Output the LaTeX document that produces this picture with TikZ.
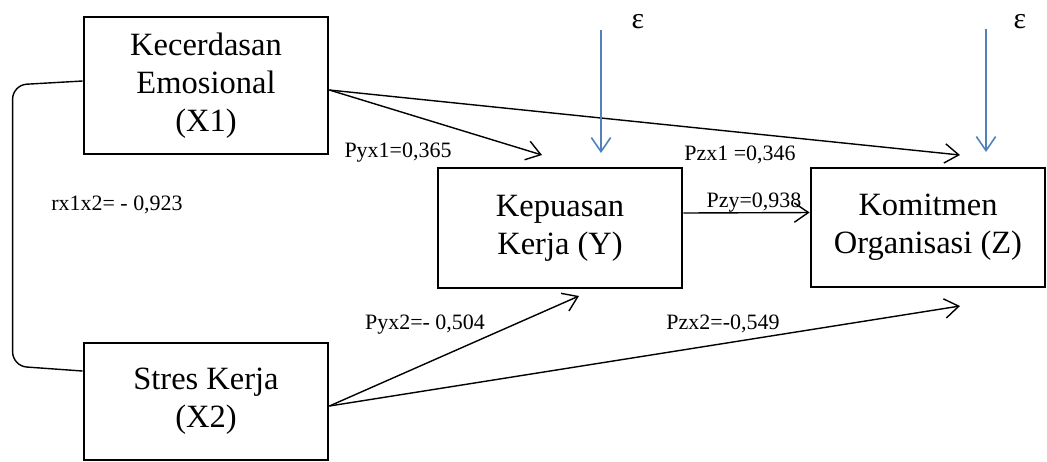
\documentclass[tikz,border=0pt]{standalone}
\usepackage{fontspec}
\setmainfont{Liberation Serif}[Ligatures=TeX]
\newfontfamily\timesfont{Liberation Serif}
\usetikzlibrary{arrows.meta,calc}
\definecolor{epsblue}{RGB}{79,129,189}
\begin{document}
\begin{tikzpicture}[x=0.02cm, y=-0.02cm, >={Straight Barb[length=8pt,width=11pt]},
        box/.style={draw, line width=1.6pt, align=center, inner sep=0pt, font=\timesfont\fontsize{18.5}{21.5}\selectfont},
        path/.style={->, line width=0.8pt},
        coef/.style={inner sep=0pt, font=\timesfont\fontsize{12.5}{14}\selectfont},
        err/.style={->, draw=epsblue, line width=0.9pt}]
        \useasboundingbox (0,0) rectangle (1047,461);
        % variables
        \node[box, minimum width=4.88cm, minimum height=2.74cm] (X1) at (206,85.5) {Kecerdasan\\Emosional\\(X1)};
        \node[box, minimum width=4.88cm, minimum height=2.34cm] (X2) at (206,401.5) {Stres Kerja\\(X2)};
        \node[box, minimum width=4.88cm, minimum height=2.40cm] (Y) at (560,228) {Kepuasan\\Kerja (Y)};
        \node[box, minimum width=4.68cm, minimum height=2.38cm] (Z) at (928,227.5) {Komitmen\\Organisasi (Z)};
        % free ends of the arrows
        \coordinate (tipyx1) at (542,155);
        \coordinate (tipzx1) at (960,155);
        \coordinate (tipyx2) at (579,296);
        \coordinate (tipzx2) at (960,306);
        \coordinate (e1top) at (601,30);
        \coordinate (e1tip) at (601,153);
        \coordinate (e2top) at (986,29);
        \coordinate (e2tip) at (986,152);
        % correlation
        \draw[line width=0.8pt, rounded corners=8] ([yshift=0.09cm]X1.west) -- ++(-70,4) -- ($([yshift=0.61cm]X2.west)+(-70,-5)$) -- ([yshift=0.61cm]X2.west);
        \node[coef] (r12) at (117,205) {rx1x2= - 0,923};
        % paths
        \draw[path] ([yshift=-0.09cm]X1.east) -- (tipyx1);
        \draw[path] ([yshift=-0.09cm]X1.east) -- (tipzx1);
        \draw[path] ([yshift=0.3cm]Y.east) -- ([yshift=0.3cm]Z.west);
        \draw[path] ([yshift=-0.09cm]X2.east) -- (tipyx2);
        \draw[path] ([yshift=-0.09cm]X2.east) -- (tipzx2);
        \node[coef] (pyx1) at (398,153) {Pyx1=0,365};
        \node[coef] (pzx1) at (740,155) {Pzx1 =0,346};
        \node[coef] (pzy) at (754,203) {Pzy=0,938};
        \node[coef] (pyx2) at (425,325) {Pyx2=- 0,504};
        \node[coef] (pzx2) at (723,324) {Pzx2=-0,549};
        % residuals
        \draw[err] (e1top) -- (e1tip);
        \draw[err] (e2top) -- (e2tip);
        \node[font=\timesfont\fontsize{17}{17}\selectfont, inner sep=0pt] (eps1) at (638,22) {ε};
        \node[font=\timesfont\fontsize{17}{17}\selectfont, inner sep=0pt] (eps2) at (1020,22) {ε};
\end{tikzpicture}
\end{document}
